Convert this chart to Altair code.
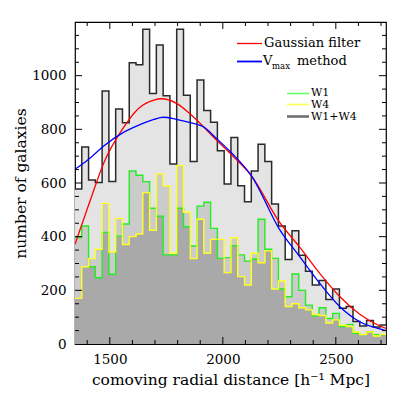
import altair as alt
import pandas as pd

# ---------------- data ----------------
bin_start = 1346
bin_width = 30

total = [578, 734, 611, 602, 943, 606, 876, 825, 1048, 1041, 1173, 934, 1114, 925, 671, 1173,
         927, 680, 984, 870, 826, 720, 596, 770, 590, 530, 645, 744, 680, 522, 440, 315, 422,
         331, 271, 220, 237, 166, 205, 133, 140, 84, 67, 88, 63, 71]
w1 = [397, 440, 288, 247, 416, 260, 402, 447, 645, 629, 605, 506, 476, 332, 332, 506,
      437, 365, 514, 528, 431, 319, 322, 366, 332, 309, 316, 465, 353, 319, 205, 176, 261,
      200, 145, 105, 135, 95, 114, 65, 73, 40, 35, 45, 35, 35]
w4 = [170, 288, 318, 353, 524, 343, 468, 371, 400, 410, 564, 424, 634, 589, 338, 665,
      491, 318, 465, 338, 390, 390, 266, 396, 251, 220, 338, 303, 347, 205, 235, 140, 150,
      135, 127, 110, 106, 78, 90, 70, 65, 45, 35, 45, 30, 36]

gauss_x = [1346, 1405, 1479, 1553, 1627, 1695, 1729, 1795, 1869, 1972, 2040, 2129, 2250,
           2341, 2429, 2518, 2606, 2695, 2722]
gauss_y = [372, 515, 686, 797, 878, 909, 914, 897, 847, 760, 704, 624, 455, 360, 263, 176,
           111, 67, 58]
vmax_x = [1346, 1405, 1479, 1553, 1627, 1695, 1736, 1795, 1869, 1913, 1972, 2040, 2129,
          2250, 2341, 2429, 2518, 2606, 2695, 2722]
vmax_y = [651, 688, 742, 785, 815, 837, 845, 837, 822, 810, 766, 711, 624, 428, 325, 226,
          139, 83, 56, 50]

x_major = [1500, 2000, 2500]
x_minor = [1400, 1600, 1700, 1800, 1900, 2100, 2200, 2300, 2400, 2600, 2700]
y_labels = [0, 200, 400, 600, 800, 1000]
y_major = [200, 400, 600, 800, 1000]
y_minor = [50, 100, 150, 250, 300, 350, 450, 500, 550, 650, 700, 750, 850, 900, 950,
           1050, 1100, 1150]

# ---------------- layout ----------------
W, H = 311, 322
XD = [1346, 2722]
YD = [0, 1200]
FONT = "DejaVu Serif"
XT = "comoving radial distance [h⁻¹ Mpc]"
YT = "number of galaxies"

n = len(total)
edges = [bin_start + bin_width * i for i in range(n + 1)]
step = pd.DataFrame({
    "x": edges,
    "total": total + [total[-1]],
    "w1": w1 + [w1[-1]],
    "w4": w4 + [w4[-1]],
})
step["mn"] = step[["w1", "w4"]].min(axis=1)
one = pd.DataFrame({"k": [0]})

xs = alt.Scale(domain=XD, nice=False, zero=False)
ys = alt.Scale(domain=YD, nice=False)

x_axis = alt.Axis(values=x_major, ticks=False, domain=False, grid=False, format="d",
                  title=XT)
y_axis = alt.Axis(values=y_labels, ticks=False, domain=False, grid=False, format="d",
                  title=YT)


def X(field):
    return alt.X(field, type="quantitative", scale=xs, axis=x_axis, title=XT)


def Y(field):
    return alt.Y(field, type="quantitative", scale=ys, axis=y_axis, title=YT)


base = alt.Chart(step)


def area(field, color):
    return base.mark_area(interpolate="step-after", color=color, clip=True).encode(
        x=X("x"), y=Y(field))


def stepline(field, color, width):
    return base.mark_line(interpolate="step-after", color=color, strokeWidth=width,
                          clip=True).encode(x=X("x"), y=Y(field))


gdf = pd.DataFrame({"x": gauss_x, "y": gauss_y})
vdf = pd.DataFrame({"x": vmax_x, "y": vmax_y})
gauss = alt.Chart(gdf).mark_line(color="#ff0000", strokeWidth=1.3, interpolate="monotone",
                                 clip=True).encode(x=X("x"), y=Y("y"))
vmax = alt.Chart(vdf).mark_line(color="#0000ff", strokeWidth=1.3, interpolate="monotone",
                                clip=True).encode(x=X("x"), y=Y("y"))


# ---------------- ticks (inside, all four sides) ----------------
def xticks(vals, length):
    d = pd.DataFrame({"t": vals})
    bot = alt.Chart(d).mark_rule(color="black", strokeWidth=1).encode(
        x=X("t"), y=alt.value(H), y2=alt.value(H - length))
    top = alt.Chart(d).mark_rule(color="black", strokeWidth=1).encode(
        x=X("t"), y=alt.value(0), y2=alt.value(length))
    return [bot, top]


def yticks(vals, length):
    d = pd.DataFrame({"t": vals})
    lef = alt.Chart(d).mark_rule(color="black", strokeWidth=1).encode(
        y=Y("t"), x=alt.value(0), x2=alt.value(length))
    rig = alt.Chart(d).mark_rule(color="black", strokeWidth=1).encode(
        y=Y("t"), x=alt.value(W), x2=alt.value(W - length))
    return [lef, rig]


ticks = xticks(x_major, 7) + xticks(x_minor, 4) + yticks(y_major, 7) + yticks(y_minor, 4)


# ---------------- legend ----------------
def leg_line(x1, x2, y, color, width):
    return alt.Chart(one).mark_rule(color=color, strokeWidth=width).encode(
        x=alt.value(x1), x2=alt.value(x2), y=alt.value(y))


def leg_text(x, y, txt, size=13):
    return alt.Chart(one).mark_text(text=txt, align="left", baseline="middle", font=FONT,
                                    fontSize=size, color="black").encode(
        x=alt.value(x), y=alt.value(y))


legend = [
    leg_line(162, 187, 21.5, "#ff0000", 1.3),
    leg_text(189, 21, "Gaussian filter"),
    leg_line(162, 187, 39.5, "#0000ff", 1.8),
    leg_text(188, 39, "V"),
    leg_text(197, 44, "max", 8.5),
    leg_text(222, 39, "method"),
    leg_line(212, 234, 71.5, "#66ff66", 1.6),
    leg_text(236, 71, "W1", 11),
    leg_line(212, 234, 82.5, "#ffff55", 1.6),
    leg_text(236, 82.5, "W4", 11),
    leg_line(212, 234, 94.5, "#707070", 2.6),
    leg_text(236, 94.5, "W1+W4", 11),
]

layers = [
    area("total", "#e4e4e4"),
    area("w1", "#cbcbcb"),
    area("w4", "#cbcbcb"),
    area("mn", "#a9a9a9"),
    stepline("w1", "#22ee22", 1.4),
    stepline("w4", "#ffff22", 1.4),
    stepline("total", "#2a2a2a", 1.5),
    gauss,
    vmax,
] + ticks + legend

chart = alt.layer(*layers).properties(
    width=W, height=H,
    autosize=alt.AutoSizeParams(type="none"),
    padding={"left": 67, "top": 14, "right": 13, "bottom": 55},
    background="white",
).configure_view(
    stroke="black", strokeWidth=1.2
).configure_axis(
    labelFont=FONT, labelFontSize=13.5, labelColor="black", labelPadding=8,
    titleFont=FONT, titleFontSize=15.5, titleFontWeight="normal", titleColor="black",
    titlePadding=7,
).configure_axisY(
    labelPadding=9, titlePadding=3,
)

chart.save("out.html", embed_options={"renderer": "svg", "actions": False})
